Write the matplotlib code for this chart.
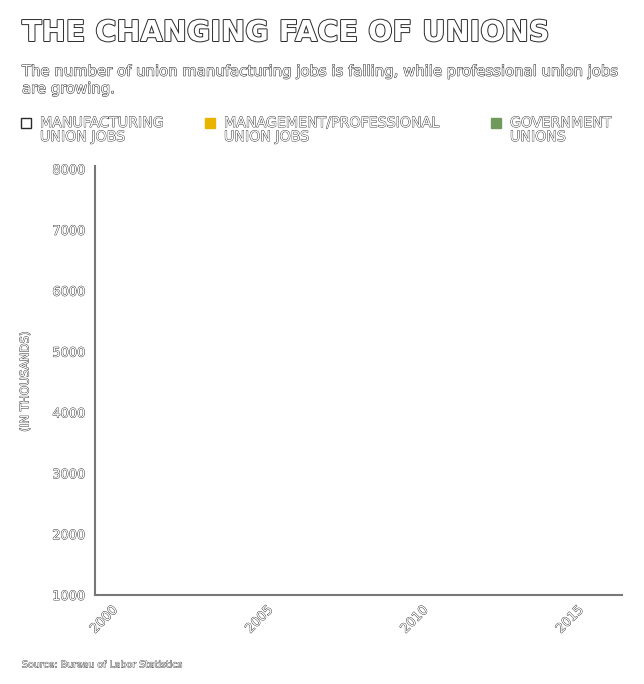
import matplotlib
matplotlib.use("Agg")
import matplotlib.pyplot as plt
import matplotlib.patheffects as pe
from matplotlib.patches import Rectangle

# ---- data ----
title = "THE CHANGING FACE OF UNIONS"
subtitle = ("The number of union manufacturing jobs is falling, while professional union jobs\n"
            "are growing.")
source = "Source: Bureau of Labor Statistics"
series_labels = ["MANUFACTURING\nUNION JOBS", "MANAGEMENT/PROFESSIONAL\nUNION JOBS", "GOVERNMENT\nUNIONS"]
series_colors = ["#ffffff", "#E9B400", "#6F9A5C"]
# the reference chart shows no plotted values
years = []
manufacturing = []
management = []
government = []
x_ticks = [2000, 2005, 2010, 2015]
y_ticks = [1000, 2000, 3000, 4000, 5000, 6000, 7000, 8000]
y_label = "(IN THOUSANDS)"

W, H = 644, 684
fig = plt.figure(figsize=(W / 100, H / 100), dpi=100)
fig.patch.set_facecolor("white")

ink = "#2a2a2a"

def outline(lw):
    return [pe.withStroke(linewidth=lw, foreground=ink)]

# title
fig.text(22 / W, 1 - 33 / H, title, fontsize=20.7, fontweight="bold", color="white",
         ha="left", va="center", family="DejaVu Sans", path_effects=outline(1.4))
# subtitle
fig.text(22 / W, 1 - 80 / H, subtitle, fontsize=10.7, color="white", ha="left", va="center",
         linespacing=1.2, family="DejaVu Sans", path_effects=outline(0.7))

# legend
leg_x = [21, 205, 491]
for i, (lab, col) in enumerate(zip(series_labels, series_colors)):
    x0 = leg_x[i]
    ec = ink if i == 0 else col
    fig.patches.append(Rectangle((x0 / W, 1 - 128 / H), 10 / W, 10 / H, transform=fig.transFigure,
                                 facecolor=col, edgecolor=ec, linewidth=1.0))
    fig.text((x0 + 19) / W, 1 - 116 / H, lab, fontsize=10.2, color="white", ha="left", va="top",
             linespacing=1.0, family="DejaVu Sans", path_effects=outline(0.6))

# axes
left, right = 95 / W, 622 / W
bottom, top = 1 - 595 / H, 1 - 166 / H
ax = fig.add_axes([left, bottom, right - left, top - bottom])
ax.plot(years, manufacturing, color=series_colors[0])
ax.plot(years, management, color=series_colors[1])
ax.plot(years, government, color=series_colors[2])

ax.set_xlim(1999.48, 2016.45)
ax.set_ylim(1000, 8050)
ax.set_xticks(x_ticks)
ax.set_yticks(y_ticks)
ax.set_xticklabels([str(t) for t in x_ticks], rotation=45, ha="right", rotation_mode="anchor",
                   fontsize=9.3, color="white", path_effects=outline(0.6))
ax.set_yticklabels([str(t) for t in y_ticks], fontsize=9.3, color="white", path_effects=outline(0.6))
ax.tick_params(axis="both", length=0)
ax.tick_params(axis="y", pad=7)
ax.tick_params(axis="x", pad=6)
for s in ["top", "right"]:
    ax.spines[s].set_visible(False)
for s in ["left", "bottom"]:
    ax.spines[s].set_color("#777777")
    ax.spines[s].set_linewidth(1.5)
ax.set_facecolor("white")

fig.text(25 / W, 1 - 382 / H, y_label, rotation=90, fontsize=8.5, color="white", ha="center",
         va="center", family="DejaVu Sans", path_effects=outline(0.6))

# source
fig.text(22 / W, 1 - 665 / H, source, fontsize=6.8, color="white", ha="left", va="center",
         family="DejaVu Sans", path_effects=outline(0.5))

fig.savefig("out.png", dpi=100, facecolor="white")
